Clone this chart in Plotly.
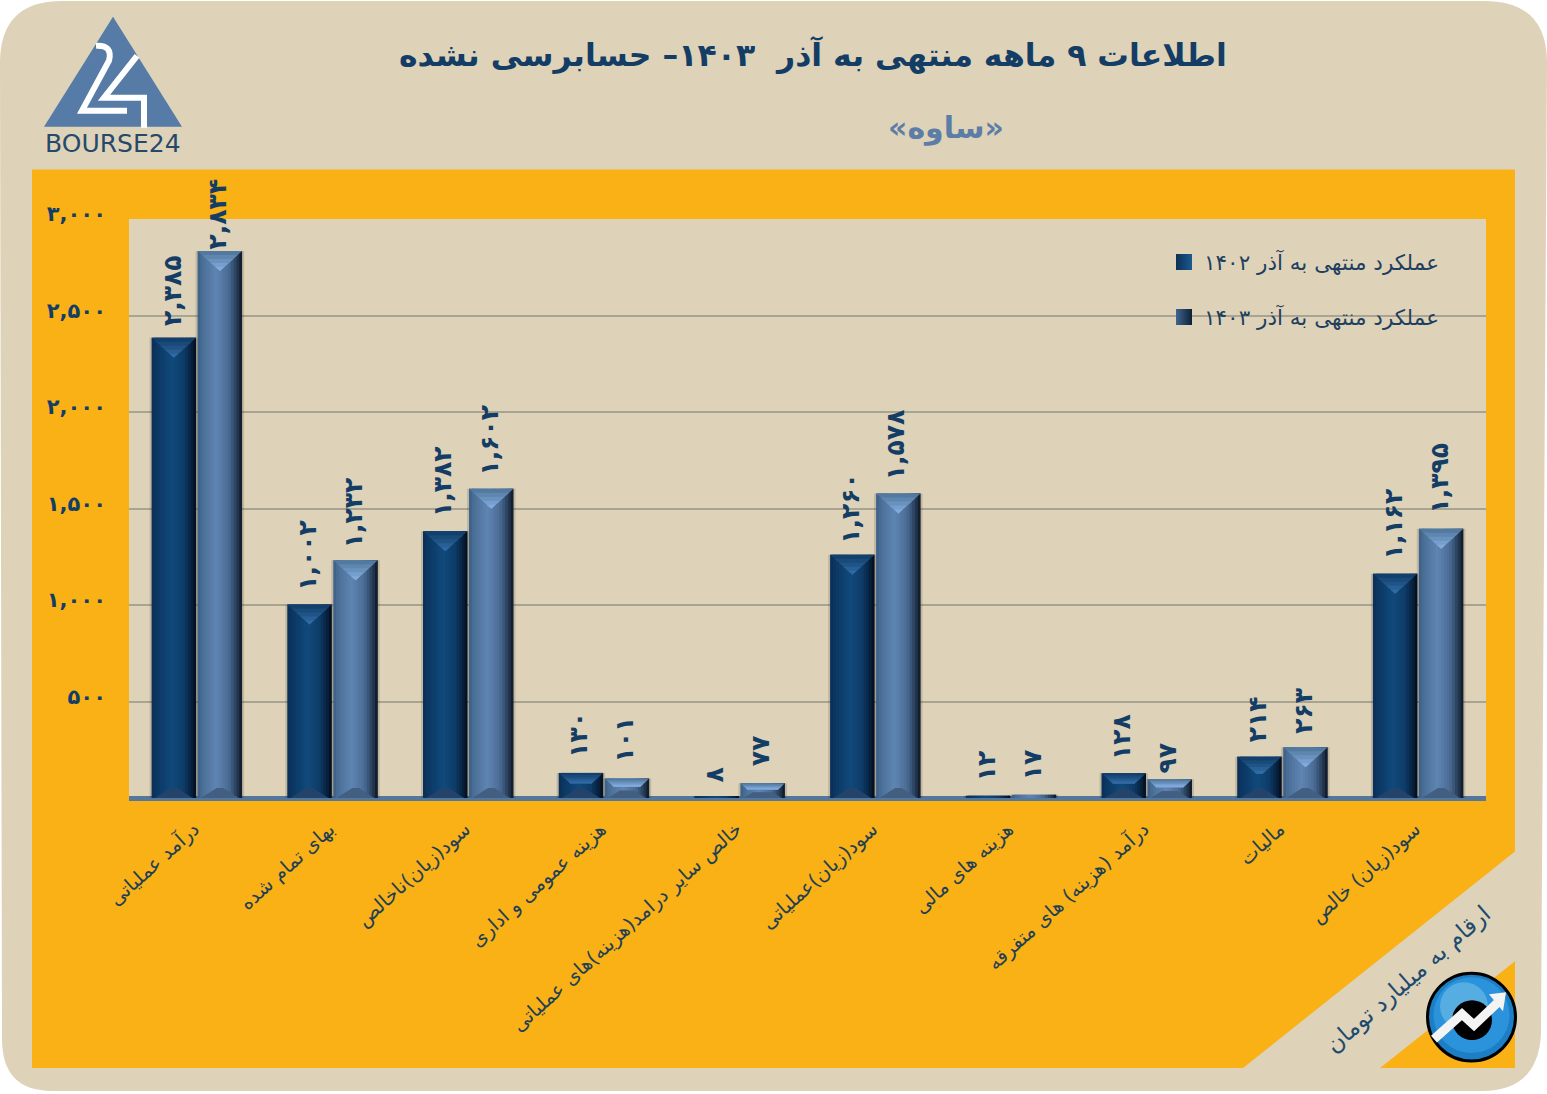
import plotly.graph_objects as go

CATEGORIES = ["درآمد عملیاتی", "بهای تمام شده", "سود(زیان)ناخالص", "هزینه عمومی و اداری",
              "خالص سایر درامد(هزینه)های عملیاتی", "سود(زیان)عملیاتی", "هزینه های مالی",
              "درآمد (هزینه) های متفرقه", "مالیات", "سود(زیان) خالص"]
VALUES_1402 = [2385, 1002, 1382, 130, 8, 1260, 12, 128, 214, 1162]
VALUES_1403 = [2834, 1232, 1602, 101, 77, 1578, 17, 97, 263, 1395]
GAPS_1402 = [13, 15, 15, 16, 15, 12, 15, 14, 16, 15]
GAPS_1403 = [3, 13, 14, 17, 18, 14, 15, 7, 15, 16]
Y_TICKS = [500, 1000, 1500, 2000, 2500, 3000]
NAME_1402 = "عملکرد منتهی به آذر ۱۴۰۲"
NAME_1403 = "عملکرد منتهی به آذر ۱۴۰۳"
TITLE = "اطلاعات ۹ ماهه منتهی به آذر  ۱۴۰۳– حسابرسی نشده"
SUBTITLE = "«ساوه»"
UNIT_NOTE = "ارقام به میلیارد تومان"
LOGO_TEXT = "BOURSE24"

FONT = "DejaVu Sans"
FONT_B = "DejaVu Sans"
W, H = 1547, 1094
L, R, T, B = 129, 1486, 218.5, 798.5
BEIGE = "#DED3B8"
ORANGE = "#F9B116"
NAVY = "#143D66"
STEEL = "#567BA6"


def X(p):
    return (p - L) / (R - L)


def Y(p):
    return (B - p) / (B - T)


def path(*cmds):
    out = []
    for c in cmds:
        if isinstance(c, str):
            out.append(c)
        else:
            out.append(f"{X(c[0]):.5f},{Y(c[1]):.5f}")
    return " ".join(out)


def fa(v):
    s = f"{v:,}"
    return s.translate(str.maketrans("0123456789", "۰۱۲۳۴۵۶۷۸۹"))


def hex2rgb(h):
    return tuple(int(h[i:i + 2], 16) for i in (1, 3, 5))


def ramp(stops, t):
    for (a, ca), (b, cb) in zip(stops, stops[1:]):
        if t <= b:
            f = (t - a) / (b - a)
            ra, rb = hex2rgb(ca), hex2rgb(cb)
            return "rgb(%d,%d,%d)" % tuple(round(ra[i] + (rb[i] - ra[i]) * f) for i in range(3))
    return stops[-1][1]


SHAPES = []


def poly(pts, fill, line=None, lw=0, closed=True):
    cmds = ["M", pts[0]]
    for p in pts[1:]:
        cmds += ["L", p]
    if closed:
        cmds.append("Z")
    SHAPES.append(dict(type="path", xref="paper", yref="paper", layer="below",
                       path=path(*cmds), fillcolor=fill,
                       line=dict(color=line or "rgba(0,0,0,0)", width=lw)))


def circle(cx, cy, r, fill, line=None, lw=0):
    SHAPES.append(dict(type="circle", xref="paper", yref="paper", layer="below",
                       x0=X(cx - r), x1=X(cx + r), y0=Y(cy + r), y1=Y(cy - r),
                       fillcolor=fill, line=dict(color=line or "rgba(0,0,0,0)", width=lw)))


# page card with rounded corners
SHAPES.append(dict(type="path", xref="paper", yref="paper", layer="below", fillcolor=BEIGE,
                   line=dict(width=0),
                   path=path("M", (62, 0), "L", (1484, 0), "Q", (1547, 0), "", (1547, 62),
                             "L", (1541, 1035), "Q", (1538, 1092), "", (1482, 1092),
                             "L", (52, 1092), "Q", (2, 1092), "", (2, 1040),
                             "L", (0, 62), "Q", (0, 0), "", (62, 0), "Z").replace(" ,", ",")))
# orange panel and plot background
poly([(32, 169), (1515, 169), (1515, 852), (1243, 1069), (32, 1069)], ORANGE)
poly([(1515, 962), (1515, 1069), (1380, 1069)], ORANGE)
poly([(L, T), (R, T), (R, B), (L, B)], BEIGE)
# logo
poly([(113, 16), (182, 126), (44, 126)], STEEL)
SHAPES.append(dict(type="path", xref="paper", yref="paper", layer="below",
                   path=path("M", (96, 45), "Q", (113, 44), "", (109, 60), "L", (82, 110), "L", (127, 110)).replace(" ,", ","),
                   line=dict(color="white", width=6)))
SHAPES.append(dict(type="path", xref="paper", yref="paper", layer="below",
                   path=path("M", (137, 55), "L", (104, 97), "L", (144, 97), "L", (144, 127)),
                   line=dict(color="white", width=6)))
# round icon
circle(1471.5, 1018, 44, "#1C7FC6", "#000000", 3)
circle(1471.5, 1016, 38, "#2A93DB")
circle(1464, 1007, 24, "#55ADE2")
circle(1472, 1021, 20, "#000000")
SHAPES.append(dict(type="path", xref="paper", yref="paper", layer="below",
                   path=path("M", (1434, 1040), "L", (1462, 1015), "L", (1474, 1026), "L", (1497, 1004)),
                   line=dict(color="#F4F4F4", width=9)))
poly([(1506, 993), (1489, 995), (1503, 1012)], "#F4F4F4")

# bars
STEP = (R - L) / len(CATEGORIES)
BAR_W = 44.5 / STEP
OFFSET = 23.0 / STEP
N = 16
BANDS = 5
STOPS_D = [(0, "#0A2E55"), (0.12, "#0C3763"), (0.45, "#114A7C"), (0.72, "#0E3C68"), (0.9, "#07203C"), (1, "#030C18")]
STOPS_L = [(0, "#3C5F88"), (0.12, "#4B7098"), (0.42, "#5F85B2"), (0.7, "#4A6B93"), (0.88, "#273D58"), (1, "#0C1420")]
BEVEL_D = [(0, "#123F6C"), (1, "#2F6AA2")]
BEVEL_L = [(0, "#52799F"), (1, "#82ABDD")]

series = [
    (VALUES_1402, -OFFSET, STOPS_D, BEVEL_D, "#24436A", GAPS_1402),
    (VALUES_1403, OFFSET, STOPS_L, BEVEL_L, "#425E80", GAPS_1403),
]
xs = list(range(len(CATEGORIES)))
traces = []
annotations = []
unit_per_px = 3000 / (B - T)
for vals, off, stops, bevel, bot_c, gaps in series:
    traces.append(go.Bar(x=xs, y=vals, width=BAR_W + 4 / STEP, offset=off - (BAR_W + 4 / STEP) / 2,
                         marker=dict(color="rgba(40,40,40,0.16)", line=dict(width=0)),
                         showlegend=False, hoverinfo="skip"))
    sw = BAR_W / N
    for i in range(N):
        width = min(sw * 1.8, BAR_W - i * sw)
        traces.append(go.Bar(x=xs, y=vals, width=width, offset=off - BAR_W / 2 + i * sw,
                             marker=dict(color=ramp(stops, (i + 0.5) / N), line=dict(width=0)),
                             showlegend=False, hoverinfo="skip"))
    hw = BAR_W / 2
    # lower bevel
    lox, loy = [], []
    for c, v in zip(xs, vals):
        px_h = v / unit_per_px
        if px_h < 4:
            continue
        low = min(10, px_h * 0.38)
        lk = hw * 0.85 * low / 12
        cx = c + off
        lox += [cx - hw * 0.85, cx + hw * 0.85, cx + hw * 0.85 - lk, cx - hw * 0.85 + lk, None]
        loy += [0, 0, low * unit_per_px, low * unit_per_px, None]
    traces.append(go.Scatter(x=lox, y=loy, mode="lines", fill="toself", fillcolor=bot_c,
                             line=dict(width=0), showlegend=False, hoverinfo="skip"))
    # upper bevel, as nested bands that lighten towards the apex
    for b in range(BANDS):
        bx, by = [], []
        for c, v in zip(xs, vals):
            px_h = v / unit_per_px
            if px_h < 4:
                continue
            depth = min(20, px_h * 0.42)
            d0 = depth * b / BANDS
            cx = c + off
            h0 = hw * (1 - d0 / 20)
            h1 = hw * (1 - depth / 20)
            bx += [cx - h0, cx + h0, cx + h1, cx - h1, None]
            by += [v - d0 * unit_per_px, v - d0 * unit_per_px, v - depth * unit_per_px, v - depth * unit_per_px, None]
        traces.append(go.Scatter(x=bx, y=by, mode="lines", fill="toself", fillcolor=ramp(bevel, b / (BANDS - 1)),
                                 line=dict(width=0), showlegend=False, hoverinfo="skip"))
    for c, v, g in zip(xs, vals, gaps):
        annotations.append(dict(x=c + off, y=v, xref="x", yref="y", text=fa(v), showarrow=False,
                                textangle=-90, xanchor="center", yanchor="bottom", yshift=g - 3, xshift=-2,
                                font=dict(family=FONT_B, size=25, color=NAVY, weight="bold")))

# legend entries
for name, col, grad, grp in ((NAME_1402, "#0B3054", "#1A5A90", "a"), (NAME_1403, "#3F6590", "#0F2036", "b")):
    traces.append(go.Scatter(x=[None], y=[None], mode="markers", name=name, legendgroup=grp,
                             marker=dict(symbol="square", size=16, color=col,
                                         gradient=dict(type="horizontal", color=grad),
                                         line=dict(width=0))))


def note(px, py, text, size, color, angle=0, bold=False, anchor="center"):
    annotations.append(dict(xref="paper", yref="paper", x=X(px), y=Y(py), text=text, showarrow=False,
                            textangle=angle, xanchor=anchor, yanchor="middle",
                            font=dict(family=FONT_B if bold else FONT, size=size, color=color,
                                      weight="bold" if bold else "normal")))


note(813, 54, TITLE, 31.5, NAVY, bold=True)
note(946, 127, SUBTITLE, 30, "#5C7EA6", bold=True)
note(113, 143, LOGO_TEXT, 25, "#26496B")
note(1408, 980, UNIT_NOTE, 23.3, "#1F4A70", angle=-41)

fig = go.Figure(traces)
fig.update_layout(
    width=W, height=H, autosize=False,
    margin=dict(l=L, r=W - R, t=T, b=H - B, pad=0),
    paper_bgcolor="#FFFFFF", plot_bgcolor=BEIGE,
    barmode="overlay", shapes=SHAPES, annotations=annotations,
    font=dict(family=FONT, color=NAVY),
    legend=dict(x=X(1164), y=Y(241), xanchor="left", yanchor="top", bgcolor="rgba(0,0,0,0)",
                borderwidth=0, traceorder="grouped", tracegroupgap=24, itemwidth=30,
                font=dict(family=FONT, size=21.5, color="#1F3F5F")),
    xaxis=dict(range=[-0.5, len(CATEGORIES) - 0.5], tickmode="array", tickvals=xs, ticktext=CATEGORIES,
               tickangle=-42, ticks="", showgrid=False, zeroline=False, showline=False,
               ticklabelstandoff=15, ticklabelshift=-3, tickfont=dict(family=FONT, size=19.5, color="#1F3F55")),
    yaxis=dict(range=[0, 3000], tickmode="array", tickvals=Y_TICKS, ticktext=[fa(v) for v in Y_TICKS],
               ticks="", showgrid=True, gridcolor="#A9A391", gridwidth=2, zeroline=True,
               zerolinecolor="#54779B", zerolinewidth=5, showline=False, ticklabelstandoff=22,
               ticklabelshift=-5, tickfont=dict(family=FONT_B, size=21, color=NAVY, weight="bold")),
)
fig.write_html("out.html", config={"displayModeBar": False},
               post_script="document.body.style.margin='0';")
